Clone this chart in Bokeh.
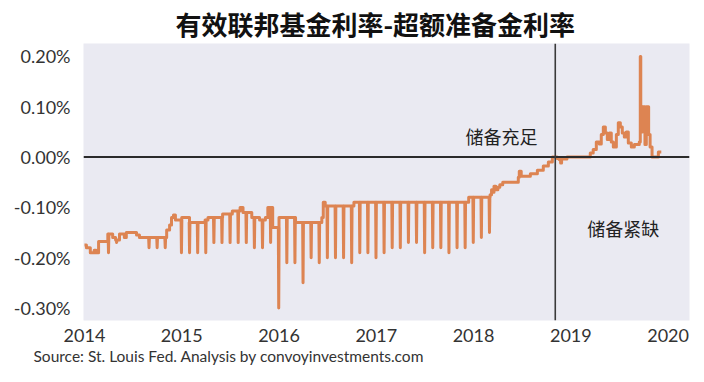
from bisect import bisect_right
from bokeh.plotting import figure
from bokeh.models import Range1d, FixedTicker, PrintfTickFormatter, Span, Label, Title
from bokeh.embed import file_html
from bokeh.resources import INLINE

# ---- data: EFFR minus IOER (percentage points) ----
level_t = [
    2014.00, 2014.02, 2014.06, 2014.10, 2014.12, 2014.145, 2014.24, 2014.29, 2014.32, 2014.36,
    2014.41, 2014.43, 2014.535, 2014.565, 2014.845, 2014.875, 2014.895, 2014.915, 2014.935,
    2015.00, 2015.08, 2015.24, 2015.27, 2015.42, 2015.52, 2015.60, 2015.63, 2015.72, 2015.80,
    2015.86, 2015.885, 2015.935,
    2016.00, 2016.17, 2016.44, 2016.455, 2016.475, 2016.77,
    2017.95,
    2018.17, 2018.185, 2018.20, 2018.21, 2018.23, 2018.25, 2018.27, 2018.30, 2018.46, 2018.47,
    2018.49, 2018.584, 2018.656, 2018.717, 2018.769, 2018.81, 2018.86, 2018.88, 2018.895,
    2018.905, 2018.96,
    2019.20, 2019.23, 2019.262, 2019.293, 2019.313, 2019.334, 2019.355, 2019.375, 2019.396,
    2019.416, 2019.437, 2019.468, 2019.488, 2019.509, 2019.529, 2019.55, 2019.57, 2019.591,
    2019.622, 2019.653, 2019.704, 2019.714, 2019.719, 2019.735, 2019.762, 2019.776, 2019.80,
    2019.815, 2019.835, 2019.90,
]
level_v = [
    -0.175, -0.18, -0.19, -0.185, -0.19, -0.168, -0.153, -0.16, -0.165, -0.153,
    -0.16, -0.15, -0.155, -0.16, -0.145, -0.135, -0.12, -0.115, -0.125,
    -0.12, -0.13, -0.125, -0.12, -0.113, -0.107, -0.10, -0.11, -0.12, -0.125,
    -0.12, -0.10, -0.14,
    -0.12, -0.13, -0.12, -0.09, -0.097, -0.09,
    -0.08,
    -0.075, -0.065, -0.07, -0.058, -0.065, -0.06, -0.055, -0.05, -0.04, -0.028,
    -0.038, -0.033, -0.026, -0.018, -0.01, 0.0, -0.003, -0.005, -0.012,
    -0.004, 0.0,
    0.008, 0.015, 0.03, 0.026, 0.045, 0.06, 0.048, 0.035, 0.048,
    0.03, 0.02, 0.045, 0.068, 0.06, 0.048, 0.04, 0.05, 0.028,
    0.02, 0.025, 0.03, 0.20, 0.05, 0.10, 0.025, 0.10, 0.045,
    0.02, 0.0, 0.01,
]
end_t = 2019.93

# month-end dips (year-month, value)
dip_months = [
    "2014-03", "2014-04", "2014-08", "2014-09", "2014-10", "2014-12",
    "2015-01", "2015-02", "2015-03", "2015-04", "2015-05", "2015-06",
    "2015-07", "2015-08", "2015-09", "2015-10", "2015-11", "2015-12",
    "2016-01", "2016-02", "2016-03", "2016-04", "2016-05", "2016-06",
    "2016-07", "2016-08", "2016-09", "2016-10", "2016-11", "2016-12",
    "2017-01", "2017-02", "2017-03", "2017-04", "2017-05", "2017-06",
    "2017-07", "2017-08", "2017-09", "2017-10", "2017-11", "2017-12",
    "2018-01", "2018-02",
]
dip_values = [
    -0.19, -0.17, -0.18, -0.18, -0.18, -0.19,
    -0.19, -0.19, -0.19, -0.17, -0.17, -0.17,
    -0.17, -0.17, -0.18, -0.18, -0.17, -0.30,
    -0.21, -0.21, -0.25, -0.20, -0.21, -0.20,
    -0.20, -0.20, -0.21, -0.19, -0.19, -0.20,
    -0.19, -0.18, -0.18, -0.17, -0.17, -0.19,
    -0.18, -0.18, -0.19, -0.18, -0.18, -0.17,
    -0.16, -0.15,
]

year_ticks = [2014, 2015, 2016, 2017, 2018, 2019, 2020]
pct_ticks = [-0.3, -0.2, -0.1, 0.0, 0.1, 0.2]
split_t = 2018.84

# ---- build the daily-style step path ----
dips = sorted((int(m[:4]) + int(m[5:]) / 12 - 0.003, v) for m, v in zip(dip_months, dip_values))
eps = 0.004
xs, ys = [], []
for i, (t0, v) in enumerate(zip(level_t, level_v)):
    t1 = level_t[i + 1] if i + 1 < len(level_t) else end_t
    xs.append(t0); ys.append(v)
    for td, dv in dips:
        if t0 <= td < t1:
            xs += [td - eps, td, td + eps]
            ys += [v, dv, v]
    xs.append(t1); ys.append(v)

p = figure(width=704, height=382, output_backend="svg", toolbar_location=None,
           x_range=Range1d(2013.99, 2020.22), y_range=Range1d(-0.3248, 0.2257),
           min_border_left=83, min_border_right=15, min_border_top=42, min_border_bottom=62,
           title="有效联邦基金利率-超额准备金利率")
p.background_fill_color = "#eaeaf2"
p.border_fill_color = "white"
p.outline_line_color = None
p.grid.visible = False

p.title.text_font = "Noto Sans CJK SC"
p.title.text_font_size = "26px"
p.title.text_font_style = "bold"
p.title.text_color = "#111111"
p.title.align = "left"
p.title.offset = 92
p.title.standoff = 4

for ax in (p.xaxis[0], p.yaxis[0]):
    ax.axis_line_color = None
    ax.major_tick_line_color = None
    ax.minor_tick_line_color = None
    ax.major_label_text_font = "Lato"
    ax.major_label_text_font_size = "18px"
    ax.major_label_text_color = "#333333"
p.xaxis.ticker = FixedTicker(ticks=year_ticks)
p.xaxis.formatter = PrintfTickFormatter(format="%d")
p.xaxis.major_label_standoff = 2
p.yaxis.ticker = FixedTicker(ticks=pct_ticks)
p.yaxis.formatter = PrintfTickFormatter(format="%.2f%%")
p.yaxis.major_label_standoff = 7

p.line(xs, ys, line_color="#dd8452", line_width=3, line_join="round")

p.add_layout(Span(location=0, dimension="width", line_color="#2b2b2b", line_width=2))
p.add_layout(Span(location=split_t, dimension="height", line_color="#3a3a3a", line_width=1.6))

p.add_layout(Label(x=2017.916, y=0.0416, text="储备充足", text_font="Noto Sans CJK SC",
                   text_font_size="18px", text_color="#222222", text_baseline="middle"))
p.add_layout(Label(x=2019.17, y=-0.140, text="储备紧缺", text_font="Noto Sans CJK SC",
                   text_font_size="18px", text_color="#222222", text_baseline="middle"))

src = Title(text="Source: St. Louis Fed. Analysis by convoyinvestments.com", align="left",
            offset=-50, text_font="Lato", text_font_size="15.5px", text_font_style="normal",
            text_color="#333333", standoff=0)
p.add_layout(src, "below")

open("out.html", "w").write(file_html(p, INLINE))
